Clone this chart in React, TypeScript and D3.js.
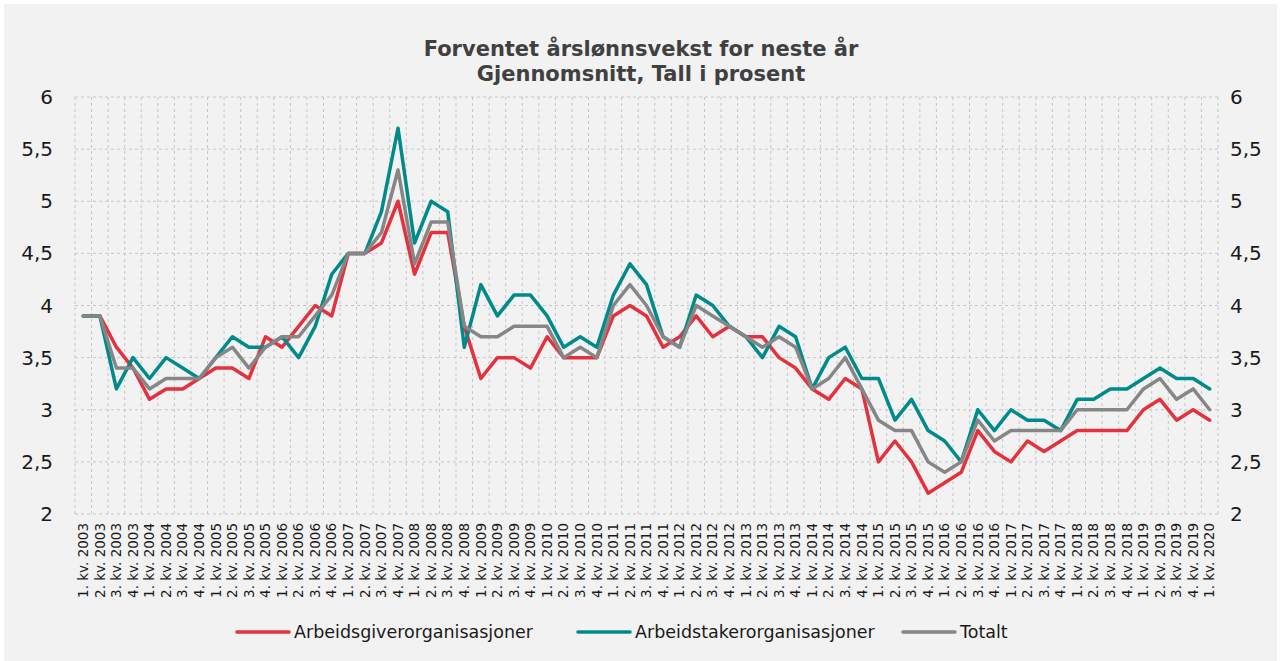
import React from 'react';
import * as d3 from 'd3';

const width = 1284;
const height = 661;
const margin = { top: 97, right: 66, bottom: 147, left: 75 };

const years = [2003, 2004, 2005, 2006, 2007, 2008, 2009, 2010, 2011, 2012, 2013, 2014, 2015, 2016, 2017, 2018, 2019, 2020];
const quarters = [1, 2, 3, 4];

// 1. kv. 2003 .. 1. kv. 2020
const categories = years
	.flatMap((y) => quarters.map((q) => `${q}. kv. ${y}`))
	.slice(0, 69);

const arbeidsgiver = [
	3.9, 3.9, 3.6, 3.4, 3.1, 3.2, 3.2, 3.3, 3.4, 3.4, 3.3, 3.7, 3.6, 3.8, 4.0, 3.9, 4.5, 4.5, 4.6, 5.0, 4.3, 4.7, 4.7,
	3.8, 3.3, 3.5, 3.5, 3.4, 3.7, 3.5, 3.5, 3.5, 3.9, 4.0, 3.9, 3.6, 3.7, 3.9, 3.7, 3.8, 3.7, 3.7, 3.5, 3.4, 3.2, 3.1,
	3.3, 3.2, 2.5, 2.7, 2.5, 2.2, 2.3, 2.4, 2.8, 2.6, 2.5, 2.7, 2.6, 2.7, 2.8, 2.8, 2.8, 2.8, 3.0, 3.1, 2.9, 3.0, 2.9,
];

const arbeidstaker = [
	3.9, 3.9, 3.2, 3.5, 3.3, 3.5, 3.4, 3.3, 3.5, 3.7, 3.6, 3.6, 3.7, 3.5, 3.8, 4.3, 4.5, 4.5, 4.9, 5.7, 4.6, 5.0, 4.9,
	3.6, 4.2, 3.9, 4.1, 4.1, 3.9, 3.6, 3.7, 3.6, 4.1, 4.4, 4.2, 3.7, 3.6, 4.1, 4.0, 3.8, 3.7, 3.5, 3.8, 3.7, 3.2, 3.5,
	3.6, 3.3, 3.3, 2.9, 3.1, 2.8, 2.7, 2.5, 3.0, 2.8, 3.0, 2.9, 2.9, 2.8, 3.1, 3.1, 3.2, 3.2, 3.3, 3.4, 3.3, 3.3, 3.2,
];

const totalt = [
	3.9, 3.9, 3.4, 3.4, 3.2, 3.3, 3.3, 3.3, 3.5, 3.6, 3.4, 3.6, 3.7, 3.7, 3.9, 4.1, 4.5, 4.5, 4.7, 5.3, 4.4, 4.8, 4.8,
	3.8, 3.7, 3.7, 3.8, 3.8, 3.8, 3.5, 3.6, 3.5, 4.0, 4.2, 4.0, 3.7, 3.6, 4.0, 3.9, 3.8, 3.7, 3.6, 3.7, 3.6, 3.2, 3.3,
	3.5, 3.2, 2.9, 2.8, 2.8, 2.5, 2.4, 2.5, 2.9, 2.7, 2.8, 2.8, 2.8, 2.8, 3.0, 3.0, 3.0, 3.0, 3.2, 3.3, 3.1, 3.2, 3.0,
];

const yTicks = [2, 2.5, 3, 3.5, 4, 4.5, 5, 5.5, 6];

const series = [
	{ name: 'Arbeidsgiverorganisasjoner', values: arbeidsgiver, color: '#e5313d' },
	{ name: 'Arbeidstakerorganisasjoner', values: arbeidstaker, color: '#008a8a' },
	{ name: 'Totalt', values: totalt, color: '#868686' },
];

const legendX = [237, 578, 903];

const font = '"DejaVu Sans", Verdana, sans-serif';
const fmt = (v: number) => String(v).replace('.', ',');

export default function App() {
	const innerWidth = width - margin.left - margin.right;
	const innerHeight = height - margin.top - margin.bottom;

	const xScale = d3.scaleBand<string>().domain(categories).range([0, innerWidth]).padding(0);
	const yScale = d3.scaleLinear().domain([2, 6]).range([innerHeight, 0]);

	const line = d3
		.line<number>()
		.x((_, i) => (xScale(categories[i]) ?? 0) + xScale.bandwidth() / 2)
		.y((d) => yScale(d));

	const bounds = categories.map((c) => xScale(c) ?? 0).concat([innerWidth]);

	return (
		<svg width={width} height={height} style={{ position: 'absolute', left: 0, top: 0 }}>
			<rect x={0} y={0} width={width} height={height} fill="#ffffff" />
			<rect x={4} y={4} width={1273} height={657} fill="#f2f2f2" />

			<text x={641} y={56} textAnchor="middle" fontFamily={font} fontWeight="bold" fontSize={21} fill="#404040">
				Forventet årslønnsvekst for neste år
			</text>
			<text x={641} y={81} textAnchor="middle" fontFamily={font} fontWeight="bold" fontSize={21} fill="#404040">
				Gjennomsnitt, Tall i prosent
			</text>

			<g transform={`translate(${margin.left},${margin.top})`}>
				{bounds.map((x, i) => (
					<line key={`v${i}`} x1={x} x2={x} y1={0} y2={innerHeight} stroke="#c6c6c6" strokeDasharray="3,3" />
				))}
				{yTicks.map((t) => (
					<line key={`h${t}`} x1={0} x2={innerWidth} y1={yScale(t)} y2={yScale(t)} stroke="#c6c6c6" strokeDasharray="3,3" />
				))}

				{yTicks.map((t) => (
					<text key={`l${t}`} x={-22} y={yScale(t)} dy="0.35em" textAnchor="end" fontFamily={font} fontSize={20} fill="#1a1a1a">
						{fmt(t)}
					</text>
				))}
				{yTicks.map((t) => (
					<text key={`r${t}`} x={innerWidth + 12} y={yScale(t)} dy="0.35em" textAnchor="start" fontFamily={font} fontSize={20} fill="#1a1a1a">
						{fmt(t)}
					</text>
				))}

				{categories.map((c) => {
					const cx = (xScale(c) ?? 0) + xScale.bandwidth() / 2;
					return (
						<text
							key={c}
							transform={`translate(${cx},${innerHeight + 9}) rotate(-90)`}
							dy="0.35em"
							textAnchor="end"
							fontFamily={font}
							fontSize={13.5}
							fill="#1a1a1a"
						>
							{c}
						</text>
					);
				})}

				{series.map((s) => (
					<path
						key={s.name}
						d={line(s.values) ?? ''}
						fill="none"
						stroke={s.color}
						strokeWidth={3.5}
						strokeLinejoin="round"
						strokeLinecap="round"
					/>
				))}
			</g>

			{series.map((s, i) => (
				<g key={`lg${s.name}`} transform={`translate(${legendX[i]},632)`}>
					<line x1={0} x2={52} y1={0} y2={0} stroke={s.color} strokeWidth={3.5} strokeLinecap="round" />
					<text x={57} y={0} dy="0.35em" fontFamily={font} fontSize={17.5} fill="#1a1a1a">
						{s.name}
					</text>
				</g>
			))}
		</svg>
	);
}
